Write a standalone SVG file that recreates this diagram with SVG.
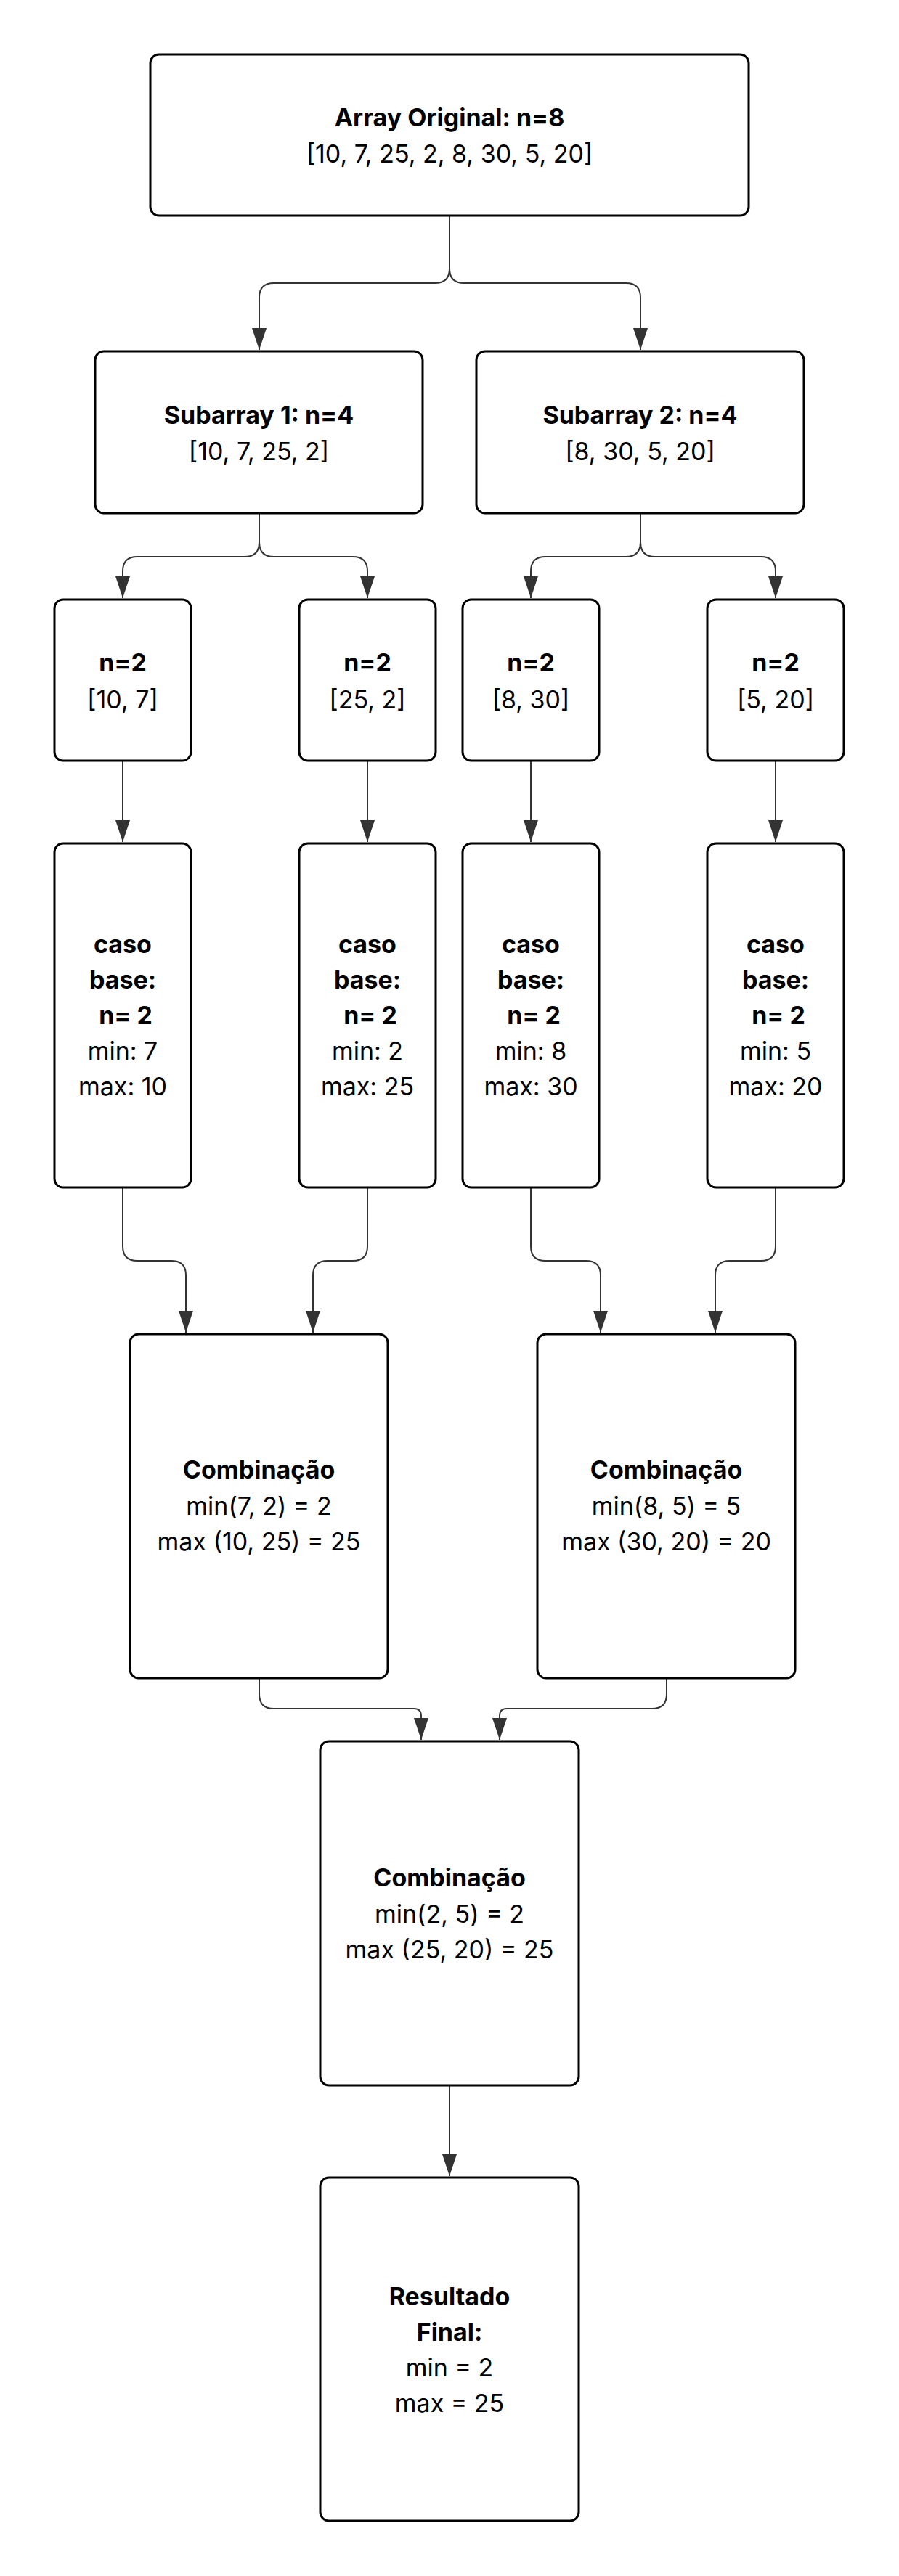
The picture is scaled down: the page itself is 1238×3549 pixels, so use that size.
<svg xmlns="http://www.w3.org/2000/svg" width="1238" height="3549" viewBox="0 0 1238 3549">
  <style>
    .box { fill: #ffffff; stroke: #000000; stroke-width: 3; }
    .edge { fill: none; stroke: #333333; stroke-width: 2; }
    text { font-family: Inter, "Noto Sans", "Liberation Sans", sans-serif; font-size: 34px; fill: #000000; text-anchor: middle; }
    .b { font-weight: 700; }
  </style>
  <defs>
    <marker id="arrow" viewBox="0 0 30 20" markerWidth="30" markerHeight="20" refX="30" refY="10" markerUnits="userSpaceOnUse" orient="auto">
      <path d="M0,0 L30,10 L0,20 z" fill="#333333"/>
    </marker>
  </defs>
  <rect width="1238" height="3549" fill="#ffffff"/>

  <!-- connectors -->
  <g id="connectors">
    <path class="edge" marker-end="url(#arrow)" d="M619 298 V370 Q619 390 599 390 H377 Q357 390 357 410 V482"/>
    <path class="edge" marker-end="url(#arrow)" d="M619 298 V370 Q619 390 639 390 H862 Q882 390 882 410 V482"/>

    <path class="edge" marker-end="url(#arrow)" d="M357 708 V747 Q357 767 337 767 H189 Q169 767 169 787 V824"/>
    <path class="edge" marker-end="url(#arrow)" d="M357 708 V747 Q357 767 377 767 H486 Q506 767 506 787 V824"/>
    <path class="edge" marker-end="url(#arrow)" d="M882 708 V747 Q882 767 862 767 H751 Q731 767 731 787 V824"/>
    <path class="edge" marker-end="url(#arrow)" d="M882 708 V747 Q882 767 902 767 H1048 Q1068 767 1068 787 V824"/>

    <path class="edge" marker-end="url(#arrow)" d="M169 1049 V1160"/>
    <path class="edge" marker-end="url(#arrow)" d="M506 1049 V1160"/>
    <path class="edge" marker-end="url(#arrow)" d="M731 1049 V1160"/>
    <path class="edge" marker-end="url(#arrow)" d="M1068 1049 V1160"/>

    <path class="edge" marker-end="url(#arrow)" d="M169 1637 V1717 Q169 1737 189 1737 H236 Q256 1737 256 1757 V1836"/>
    <path class="edge" marker-end="url(#arrow)" d="M506 1637 V1717 Q506 1737 486 1737 H451 Q431 1737 431 1757 V1836"/>
    <path class="edge" marker-end="url(#arrow)" d="M731 1637 V1717 Q731 1737 751 1737 H807 Q827 1737 827 1757 V1836"/>
    <path class="edge" marker-end="url(#arrow)" d="M1068 1637 V1717 Q1068 1737 1048 1737 H1005 Q985 1737 985 1757 V1836"/>

    <path class="edge" marker-end="url(#arrow)" d="M357 2313 V2334 Q357 2354 377 2354 H570 Q580 2354 580 2364 V2397"/>
    <path class="edge" marker-end="url(#arrow)" d="M918 2313 V2334 Q918 2354 898 2354 H698 Q688 2354 688 2364 V2397"/>

    <path class="edge" marker-end="url(#arrow)" d="M619 2874 V2998"/>
  </g>

  <!-- nodes -->
  <g id="array-original">
    <rect class="box" x="207" y="75" width="824" height="222" rx="12"/>
    <text class="b" x="619" y="174">Array Original: n=8</text>
    <text x="619" y="224">[10, 7, 25, 2, 8, 30, 5, 20]</text>
  </g>

  <g id="subarray-1">
    <rect class="box" x="131" y="484" width="451" height="223" rx="12"/>
    <text class="b" x="356.5" y="584">Subarray 1: n=4</text>
    <text x="356.5" y="634">[10, 7, 25, 2]</text>
  </g>
  <g id="subarray-2">
    <rect class="box" x="656" y="484" width="451" height="223" rx="12"/>
    <text class="b" x="881.5" y="584">Subarray 2: n=4</text>
    <text x="881.5" y="634">[8, 30, 5, 20]</text>
  </g>

  <g id="split-10-7">
    <rect class="box" x="75" y="826" width="188" height="222" rx="12"/>
    <text class="b" x="169" y="925">n=2</text>
    <text x="169" y="976">[10, 7]</text>
  </g>
  <g id="split-25-2">
    <rect class="box" x="412" y="826" width="188" height="222" rx="12"/>
    <text class="b" x="506" y="925">n=2</text>
    <text x="506" y="976">[25, 2]</text>
  </g>
  <g id="split-8-30">
    <rect class="box" x="637" y="826" width="188" height="222" rx="12"/>
    <text class="b" x="731" y="925">n=2</text>
    <text x="731" y="976">[8, 30]</text>
  </g>
  <g id="split-5-20">
    <rect class="box" x="974" y="826" width="188" height="222" rx="12"/>
    <text class="b" x="1068" y="925">n=2</text>
    <text x="1068" y="976">[5, 20]</text>
  </g>

  <g id="base-10-7">
    <rect class="box" x="75" y="1162" width="188" height="474" rx="12"/>
    <text class="b" x="169" y="1313">caso</text>
    <text class="b" x="169" y="1362">base:</text>
    <text class="b" x="173" y="1411">n= 2</text>
    <text x="169" y="1460">min: 7</text>
    <text x="169" y="1509">max: 10</text>
  </g>
  <g id="base-25-2">
    <rect class="box" x="412" y="1162" width="188" height="474" rx="12"/>
    <text class="b" x="506" y="1313">caso</text>
    <text class="b" x="506" y="1362">base:</text>
    <text class="b" x="510" y="1411">n= 2</text>
    <text x="506" y="1460">min: 2</text>
    <text x="506" y="1509">max: 25</text>
  </g>
  <g id="base-8-30">
    <rect class="box" x="637" y="1162" width="188" height="474" rx="12"/>
    <text class="b" x="731" y="1313">caso</text>
    <text class="b" x="731" y="1362">base:</text>
    <text class="b" x="735" y="1411">n= 2</text>
    <text x="731" y="1460">min: 8</text>
    <text x="731" y="1509">max: 30</text>
  </g>
  <g id="base-5-20">
    <rect class="box" x="974" y="1162" width="188" height="474" rx="12"/>
    <text class="b" x="1068" y="1313">caso</text>
    <text class="b" x="1068" y="1362">base:</text>
    <text class="b" x="1072" y="1411">n= 2</text>
    <text x="1068" y="1460">min: 5</text>
    <text x="1068" y="1509">max: 20</text>
  </g>

  <g id="merge-left">
    <rect class="box" x="179" y="1838" width="355" height="474" rx="12"/>
    <text class="b" x="356.5" y="2037">Combinação</text>
    <text x="356.5" y="2087">min(7, 2) = 2</text>
    <text x="356.5" y="2136">max (10, 25) = 25</text>
  </g>
  <g id="merge-right">
    <rect class="box" x="740" y="1838" width="355" height="474" rx="12"/>
    <text class="b" x="917.5" y="2037">Combinação</text>
    <text x="917.5" y="2087">min(8, 5) = 5</text>
    <text x="917.5" y="2136">max (30, 20) = 20</text>
  </g>

  <g id="merge-final">
    <rect class="box" x="441" y="2399" width="356" height="474" rx="12"/>
    <text class="b" x="619" y="2599">Combinação</text>
    <text x="619" y="2649">min(2, 5) = 2</text>
    <text x="619" y="2698">max (25, 20) = 25</text>
  </g>

  <g id="resultado">
    <rect class="box" x="441" y="3000" width="356" height="473" rx="12"/>
    <text class="b" x="619" y="3176">Resultado</text>
    <text class="b" x="619" y="3225">Final:</text>
    <text x="619" y="3274">min = 2</text>
    <text x="619" y="3323">max = 25</text>
  </g>
</svg>
